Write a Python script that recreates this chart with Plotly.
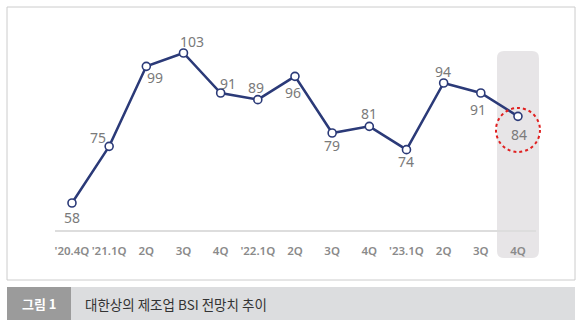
import plotly.graph_objects as go

categories = ["'20.4Q", "'21.1Q", "2Q", "3Q", "4Q", "'22.1Q", "2Q", "3Q", "4Q", "'23.1Q", "2Q", "3Q", "4Q"]
bsi_values = [58, 75, 99, 103, 91, 89, 96, 79, 81, 74, 94, 91, 84]
# label offsets from each point (pixels: right, down)
label_dx = [0, -11, 9, 9, 7, -2, -2, 0, 0, 0, -1, -3, 1]
label_dy = [14, -9, 11, -12, -10, -12, 16, 12, -13, 12, -12, 16, 18]
caption_tag = "그림 1"
caption_text = "대한상의 제조업 BSI 전망치 추이"

W, H = 581, 329
idx = list(range(len(categories)))

X_DOM = [55 / W, 536 / W]
X_RNG = [-0.457, 12.485]
Y_DOM = [1 - 229.5 / H, 1]
Y_RNG = [50.05, 118.9]


def xp(i):
    return X_DOM[0] + (i - X_RNG[0]) / (X_RNG[1] - X_RNG[0]) * (X_DOM[1] - X_DOM[0])


fig = go.Figure()
fig.add_trace(go.Scatter(
    x=idx, y=bsi_values, mode="lines+markers",
    line=dict(color="#2b3a78", width=2.5),
    marker=dict(size=8, color="white", line=dict(color="#2b3a78", width=1.6)),
    hoverinfo="skip", cliponaxis=False,
))

shapes = []
# outer frame
shapes.append(dict(type="rect", xref="paper", yref="paper", x0=7/W, x1=575/W, y0=1-280/H, y1=1-7/H,
                   line=dict(color="#cccccc", width=1), fillcolor="rgba(0,0,0,0)", layer="below"))
# highlight column (rounded), centred on the last category
last = len(categories) - 1
cxp = xp(last)
hx0, hx1 = cxp - 21/W, cxp + 21/W
hy0, hy1 = 1 - 258/H, 1 - 51/H
rx, ry = 7/W, 7/H
path = (f"M {hx0+rx},{hy1} L {hx1-rx},{hy1} Q {hx1},{hy1} {hx1},{hy1-ry} "
        f"L {hx1},{hy0+ry} Q {hx1},{hy0} {hx1-rx},{hy0} L {hx0+rx},{hy0} "
        f"Q {hx0},{hy0} {hx0},{hy0+ry} L {hx0},{hy1-ry} Q {hx0},{hy1} {hx0+rx},{hy1} Z")
shapes.append(dict(type="path", xref="paper", yref="paper", path=path, fillcolor="#e7e5e7",
                   line=dict(width=0), layer="below"))
# red dotted circle around latest point
cyp = 1 - 130/H
rad = 22
shapes.append(dict(type="circle", xref="paper", yref="paper",
                   x0=cxp - rad/W, x1=cxp + rad/W, y0=cyp - rad/H, y1=cyp + rad/H,
                   line=dict(color="#e02020", width=2, dash="dot"), layer="above"))
# caption bar
shapes.append(dict(type="rect", xref="paper", yref="paper", x0=71/W, x1=575/W, y0=1-320/H, y1=1-287/H,
                   fillcolor="#dcdddf", line=dict(width=0)))
shapes.append(dict(type="rect", xref="paper", yref="paper", x0=7/W, x1=71/W, y0=1-320/H, y1=1-287/H,
                   fillcolor="#9b9b9b", line=dict(width=0)))

annotations = [
    dict(text=f"<b>{caption_tag}</b>", xref="paper", yref="paper", x=39/W, y=1-303.5/H,
         showarrow=False, font=dict(family="Noto Sans CJK KR", size=13, color="white"),
         xanchor="center", yanchor="middle"),
    dict(text=caption_text, xref="paper", yref="paper", x=83/W, y=1-303.5/H,
         showarrow=False, font=dict(family="Noto Sans CJK KR", size=13.5, color="#333333"),
         xanchor="left", yanchor="middle"),
]
for i, v in enumerate(bsi_values):
    annotations.append(dict(
        text=str(v), x=i, y=v, xref="x", yref="y", showarrow=False,
        xshift=label_dx[i], yshift=-label_dy[i], xanchor="center", yanchor="middle",
        font=dict(family="Noto Sans, Open Sans, sans-serif", size=14, color="#7a7a7a"),
    ))

fig.update_layout(
    width=W, height=H, margin=dict(l=0, r=0, t=0, b=0),
    paper_bgcolor="white", plot_bgcolor="rgba(0,0,0,0)",
    showlegend=False, shapes=shapes, annotations=annotations,
    xaxis=dict(domain=X_DOM, range=X_RNG, showgrid=False, zeroline=False,
               showline=True, linecolor="#dddddd", linewidth=2,
               tickmode="array", tickvals=idx, ticktext=categories, ticks="",
               tickangle=0, ticklabelstandoff=10,
               tickfont=dict(family="Noto Sans, Open Sans, sans-serif", size=11.5, color="#8a8a8a", weight=600)),
    yaxis=dict(domain=Y_DOM, range=Y_RNG, showgrid=False, zeroline=False,
               showticklabels=False, showline=False),
)

fig.write_html("out.html")
